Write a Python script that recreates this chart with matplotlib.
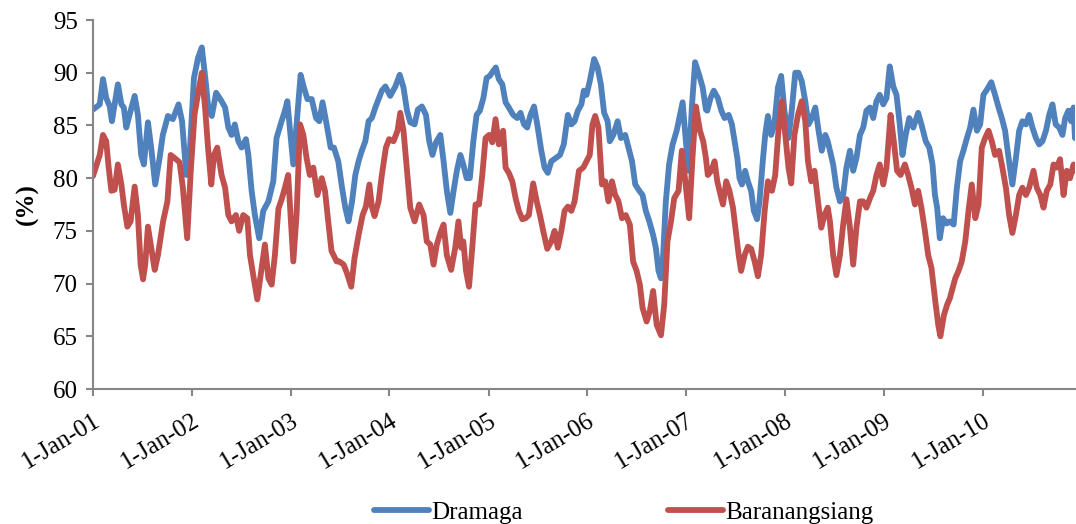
import numpy as np
import pandas as pd
import matplotlib
matplotlib.use("Agg")
import matplotlib.pyplot as plt
import matplotlib.dates as mdates

plt.rcParams['font.family'] = ['Liberation Serif', 'DejaVu Serif']

#----------------------------------
# Data: relative humidity (%)
# day = days since 1-Jan-2001
#----------------------------------

dramaga_day = [
    0, 25, 37, 49, 62, 70, 80, 92, 105, 114, 123, 135, 154, 166, 178, 188, 203, 215,
    230, 246, 258, 277, 295, 304, 316, 329, 345, 357, 373, 388, 402, 415, 427, 439, 455,
    475, 488, 500, 512, 524, 537, 549, 565, 574, 586, 598, 614, 629, 648, 666, 678, 693,
    709, 718, 728, 740, 752, 767, 779, 792, 808, 824, 836, 848, 863, 878, 890, 906,
    920, 932, 944, 957, 969, 981, 993, 1006, 1018, 1030, 1043, 1055, 1067, 1080, 1098,
    1117, 1133, 1147, 1160, 1172, 1188, 1200, 1215, 1230, 1242, 1254, 1267, 1283, 1295,
    1307, 1320, 1332, 1344, 1357,
    1368, 1380, 1392, 1405, 1417, 1429, 1442, 1454, 1466, 1479, 1488, 1499, 1512, 1524,
    1536, 1552, 1567, 1579, 1592, 1604, 1616, 1629, 1641, 1656, 1668, 1680, 1693, 1709,
    1725, 1739, 1754, 1767, 1779, 1791, 1804, 1813,
    1823, 1835, 1851, 1864, 1876, 1888, 1901, 1909, 1922, 1938, 1950, 1966, 1978, 1991,
    2003, 2018, 2030, 2042, 2055, 2069, 2079, 2089, 2098, 2106, 2116, 2128, 2141, 2156,
    2168, 2178, 2190, 2200, 2212, 2224, 2239, 2252, 2264,
    2269, 2281, 2293, 2308, 2321, 2333, 2348, 2360, 2370, 2380, 2388, 2397, 2409, 2419,
    2431, 2441, 2453, 2462, 2474, 2483, 2493, 2505, 2517, 2530, 2542, 2554, 2569, 2581,
    2594, 2606, 2618, 2631, 2643, 2655, 2668, 2680, 2692, 2705, 2714,
    2734, 2746, 2759, 2771, 2783, 2796, 2808, 2820, 2833, 2845, 2857, 2870, 2882, 2894,
    2906, 2919, 2931, 2943, 2956, 2968, 2980, 2990, 3002, 3015, 3030, 3048, 3060, 3076,
    3089, 3101, 3110, 3118, 3128, 3140, 3153, 3165,
    3179, 3191, 3203, 3215, 3228, 3240, 3252, 3265, 3277, 3289, 3302, 3318, 3332, 3345,
    3357, 3369, 3382, 3396, 3409, 3421, 3433, 3446, 3458, 3470, 3483, 3495, 3507, 3520,
    3532, 3544, 3556, 3569, 3581, 3591, 3603, 3613, 3622, 3627,
]
dramaga = [
    86.5, 87.0, 89.4, 87.6, 86.8, 85.4, 87.0, 88.9, 87.0, 86.7, 84.8, 86.0, 87.8, 86.0,
    82.2, 81.3, 85.3, 82.9, 79.4, 81.9, 84.1, 85.9, 85.6, 86.2, 87.0, 85.4, 80.3, 82.2,
    89.5, 91.4, 92.4, 89.5, 86.4, 85.9, 88.1,
    87.3, 86.7, 84.8, 84.1, 85.1, 83.5, 82.9, 83.7, 82.2, 78.8, 76.5, 74.3, 76.9, 77.8,
    79.7, 83.8, 85.1, 86.4, 87.3, 84.5, 81.3, 85.1, 89.8, 88.6, 87.5, 87.5, 85.7, 85.4,
    87.2, 85.1, 82.9, 82.9, 81.6,
    79.1, 77.2, 75.9, 77.8, 80.3, 81.6, 82.6, 83.5, 85.4, 85.7, 86.7, 87.5, 88.3, 88.7,
    87.8, 88.7, 89.8, 88.6, 86.4, 85.3, 85.1, 86.5, 86.8, 86.0, 83.5, 82.2, 83.4, 84.1,
    81.6, 78.8, 76.7, 78.8, 80.7, 82.2,
    81.3, 80.0, 80.0, 83.5, 86.0, 86.4, 87.6, 89.5, 89.7, 90.2, 90.5, 89.4, 88.9, 87.2,
    86.7, 86.0, 85.7, 86.2, 85.1, 84.8, 86.0, 86.8, 85.1, 82.6, 81.0, 80.5, 81.6, 81.9,
    82.2, 83.2, 86.0, 85.1, 85.4, 86.4, 87.0, 88.3,
    87.9, 89.2, 91.3, 90.5, 88.9, 86.2, 85.4, 83.5, 84.1, 85.4, 83.8, 84.1, 82.9, 81.6,
    79.4, 78.8, 78.4, 76.9, 75.9, 74.6, 73.4, 71.2, 70.5, 72.7, 77.8, 81.3, 83.2, 84.5,
    86.0, 87.2, 83.5, 80.7, 86.7, 91.0, 89.8, 88.6, 86.5,
    86.4, 87.6, 88.3, 87.6, 86.4, 85.7, 86.0, 85.1, 83.5, 81.9, 80.0, 79.4, 80.7, 79.7,
    78.8, 76.9, 76.1, 77.8, 81.6, 84.1, 85.9, 84.1, 85.1, 88.6, 89.7, 86.4, 83.8, 86.4,
    90.0, 90.0, 89.2, 87.3, 85.1, 85.7, 86.7, 84.5, 82.6, 84.1, 83.5,
    81.3, 79.1, 77.8, 78.4, 81.0, 82.6, 80.7, 81.9, 84.1, 84.8, 86.4, 86.7, 85.7, 87.3,
    87.9, 87.0, 87.6, 90.6, 88.7, 87.9, 85.1, 82.2, 84.1, 85.7, 84.8, 86.2, 85.1, 83.5,
    82.9, 81.3, 78.4, 77.2, 74.3, 76.2, 75.7, 75.9,
    75.6, 79.1, 81.6, 82.6, 83.8, 84.8, 86.5, 84.5, 85.1, 87.9, 88.4, 89.1, 87.9, 86.7,
    85.7, 84.5, 81.9, 79.4, 81.9, 84.5, 85.4, 85.1, 86.0, 84.8, 83.8, 83.2, 83.5, 84.5,
    86.0, 87.0, 85.1, 84.8, 84.1, 85.7, 86.4, 85.4, 86.7, 83.8,
]

baranangsiang_day = [
    0, 25, 37, 49, 58, 68, 80, 92, 105, 114, 127, 139, 154, 166, 176, 185, 193, 203,
    215, 228, 240, 259, 275, 287, 302, 320, 332, 348, 361, 375, 390, 402, 415, 425, 437,
    447, 459,
    475, 488, 500, 512, 528, 540, 555, 570, 580, 592, 607, 623, 635, 648, 660, 672, 685,
    697, 709, 721, 731, 740, 752, 765, 777, 789, 801, 814, 829, 845, 857, 869, 881, 900,
    910,
    926, 938, 954, 966, 981, 996, 1008, 1021, 1030, 1040, 1055, 1067, 1082, 1094, 1110,
    1125, 1135, 1147, 1160, 1172, 1188, 1205, 1221, 1233, 1246, 1258, 1270, 1283, 1295,
    1307, 1323, 1338, 1350, 1360,
    1368, 1378, 1389, 1401, 1413, 1426, 1438, 1450, 1463, 1475, 1487, 1499, 1515, 1524,
    1536, 1549, 1561, 1573, 1586, 1598, 1610, 1626, 1639, 1651, 1663, 1678, 1693, 1705,
    1717, 1730, 1742, 1754, 1767, 1779, 1795, 1811,
    1823, 1835, 1845, 1855, 1867, 1880, 1892, 1904, 1917, 1929, 1941, 1954, 1968, 1983,
    1995, 2008, 2020, 2030, 2045, 2057, 2069, 2082, 2098, 2110, 2122, 2135, 2147, 2163,
    2175, 2188, 2202, 2215, 2227, 2242, 2254, 2264,
    2271, 2284, 2296, 2306, 2318, 2327, 2339, 2351, 2364, 2376, 2385, 2394, 2407, 2419,
    2431, 2444, 2456, 2468, 2481, 2493, 2508, 2520, 2532, 2545, 2557, 2569, 2579, 2591,
    2604, 2618, 2631, 2641, 2653, 2665, 2678, 2690, 2702, 2714,
    2722, 2734, 2746, 2759, 2771, 2783, 2796, 2808, 2820, 2833, 2845, 2857, 2870, 2882,
    2894, 2906, 2919, 2931, 2946, 2958, 2970, 2983, 2999, 3011, 3023, 3036, 3048, 3060,
    3073, 3085, 3097, 3110, 3122, 3130, 3143, 3155, 3165,
    3185, 3197, 3209, 3222, 3234, 3246, 3259, 3271, 3283, 3295, 3308, 3320, 3332, 3347,
    3359, 3372, 3384, 3396, 3409, 3421, 3433, 3446, 3458, 3474, 3486, 3499, 3511, 3523,
    3536, 3548, 3560, 3572, 3585, 3597, 3609, 3622, 3627,
]
baranangsiang = [
    80.2, 82.2, 84.1, 83.5, 81.0, 78.8, 78.9, 81.3, 79.4, 77.5, 75.4, 75.9, 79.2, 76.5,
    71.8, 70.4, 71.8, 75.4, 73.4, 71.3, 72.7, 75.9, 77.8, 82.2, 81.9, 81.5, 79.1, 74.3,
    80.6, 86.0, 88.3, 90.0, 86.4, 82.9, 79.4, 82.2, 82.9,
    80.3, 79.1, 76.5, 75.9, 76.5, 75.0, 76.5, 76.2, 72.7, 70.8, 68.5, 71.5, 73.7, 70.5,
    69.9, 72.7, 77.1, 78.0, 79.1, 80.3, 75.9, 72.1, 76.5, 85.1, 84.1, 81.9, 80.3, 81.0,
    78.4, 80.0, 78.8, 75.9, 73.1, 72.1, 72.1,
    71.8, 71.0, 69.7, 72.4, 74.6, 76.5, 77.3, 79.4, 77.3, 76.4, 77.8, 80.3, 82.9, 83.7,
    83.5, 84.5, 86.2, 84.5, 80.7, 77.2, 75.9, 77.5, 76.5, 74.0, 73.7, 71.8, 73.7, 74.8,
    75.6, 72.7, 71.3, 73.4, 75.9, 73.4,
    74.0, 71.2, 69.7, 73.4, 77.5, 77.5, 80.3, 83.8, 84.1, 83.4, 85.6, 83.2, 84.5, 81.0,
    80.5, 79.7, 78.1, 76.9, 76.1, 76.2, 76.5, 79.5, 77.8, 76.5, 75.0, 73.3, 74.0, 75.0,
    73.4, 75.0, 76.9, 77.3, 76.9, 77.8, 80.7, 81.0,
    81.6, 82.2, 85.1, 85.9, 84.8, 79.4, 79.7, 77.8, 79.7, 78.4, 77.8, 76.2, 76.5, 75.6,
    72.1, 71.2, 69.9, 67.7, 66.4, 67.4, 69.3, 66.1, 65.1, 68.0, 74.0, 75.9, 78.1, 78.8,
    82.6, 79.7, 76.2, 82.2, 86.8, 84.5, 83.5, 81.9,
    80.3, 80.7, 81.6, 79.7, 78.4, 77.5, 79.7, 78.8, 77.2, 74.6, 72.7, 71.2, 72.7, 73.5,
    73.3, 72.1, 70.7, 72.7, 76.9, 79.7, 78.8, 80.3, 84.5, 87.3, 84.1, 81.0, 79.5, 84.1,
    86.0, 87.3, 85.4, 81.6, 79.7, 80.7, 77.8, 75.3, 76.5, 77.2,
    75.9, 72.7, 70.8, 72.7, 75.6, 78.0, 75.3, 71.8, 75.3, 77.8, 77.8, 77.2, 78.1, 78.8,
    80.3, 81.3, 79.4, 81.0, 86.0, 83.5, 80.7, 80.3, 81.3, 80.3, 79.1, 77.5, 78.8, 77.2,
    75.0, 72.7, 71.5, 68.6, 66.1, 65.0, 67.0, 68.0, 68.6,
    70.5, 71.2, 72.1, 74.0, 76.9, 79.4, 76.2, 77.5, 82.9, 83.8, 84.5, 83.5, 82.2, 82.6,
    81.0, 79.1, 76.5, 74.8, 76.5, 78.4, 79.1, 78.4, 79.1, 80.7, 79.1, 78.4, 77.2, 78.8,
    79.4, 81.3, 81.0, 81.8, 78.4, 80.7, 80.0, 81.3, 80.7,
]

start = pd.Timestamp('2001-01-01')
t_dra = start + pd.to_timedelta(dramaga_day, unit='D')
t_bar = start + pd.to_timedelta(baranangsiang_day, unit='D')

#----------------------------------
# Figure
#----------------------------------

BLUE = '#4F81BD'
RED = '#C0504D'
AXC = '#868686'
FS = 18

fig = plt.figure(figsize=(10.76, 5.24), dpi=100)
ax = fig.add_axes([0.0864, 0.2576, 0.9126, 0.7042])

ax.plot(t_dra, dramaga, color=BLUE, lw=4.2, label='Dramaga',
        solid_capstyle='round', solid_joinstyle='round')
ax.plot(t_bar, baranangsiang, color=RED, lw=4.2, label='Baranangsiang',
        solid_capstyle='round', solid_joinstyle='round')

ax.set_ylim(60, 95)
ax.set_yticks(np.arange(60, 96, 5))
ax.set_xlim(start, start + pd.Timedelta(days=3627))

ax.xaxis.set_major_locator(mdates.YearLocator())
ax.xaxis.set_major_formatter(mdates.DateFormatter('%-d-%b-%y'))

for s in ['top', 'right']:
    ax.spines[s].set_visible(False)
for s in ['left', 'bottom']:
    ax.spines[s].set_color(AXC)
    ax.spines[s].set_linewidth(1.5)

ax.tick_params(axis='both', colors=AXC, width=1.5, length=5, labelcolor='black',
               labelsize=FS)
ax.tick_params(axis='y', pad=6)
ax.tick_params(axis='x', pad=10)
for lab in ax.get_xticklabels():
    lab.set_rotation(31)
    lab.set_ha('right')
    lab.set_va('top')
    lab.set_rotation_mode('anchor')

ax.set_ylabel('(%)', fontsize=FS, fontweight='bold', labelpad=10)

fig.legend(loc='center', bbox_to_anchor=(0.5795, 0.021), ncol=2, frameon=False,
           fontsize=FS, handlelength=2.2, handletextpad=0.1, columnspacing=5.8)

fig.savefig('out.png', dpi=100)
